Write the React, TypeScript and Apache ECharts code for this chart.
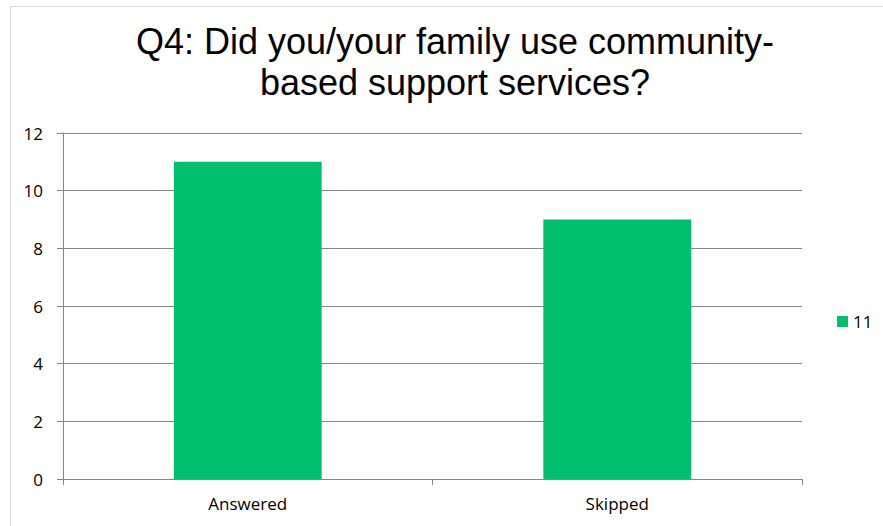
import React, { useEffect, useRef } from "react";
import * as echarts from "echarts";

const categories = ["Answered", "Skipped"];
const seriesName = "11";
const values = [11, 9];
const titleLines = ["Q4: Did you/your family use community-", "based support services?"];

export default function App() {
  const ref = useRef<HTMLDivElement>(null);
  useEffect(() => {
    if (!ref.current) return;
    const chart = echarts.init(ref.current, null, { renderer: "svg" });
    const labelFont = "'Open Sans', sans-serif";
    chart.setOption({
      animation: false,
      backgroundColor: "#ffffff",
      graphic: [
        {
          type: "rect",
          shape: { x: 10.5, y: 6.5, width: 900, height: 600 },
          style: { fill: "none", stroke: "#d9d9d9", lineWidth: 1 },
          silent: true,
        },
        {
          type: "text",
          x: 455,
          y: 21,
          style: {
            text: titleLines.join("\n"),
            textAlign: "center",
            textVerticalAlign: "top",
            fontFamily: "'Liberation Sans', Arial, sans-serif",
            fontSize: 36,
            lineHeight: 41,
            fill: "#000000",
          },
        },
      ],
      legend: {
        data: [seriesName],
        left: 837,
        top: 313,
        padding: 0,
        itemWidth: 11,
        itemHeight: 11,
        icon: "rect",
        textStyle: { fontFamily: labelFont, fontSize: 17, color: "#000" },
      },
      grid: { left: 63, right: 81, top: 133, bottom: 47, containLabel: false },
      xAxis: {
        type: "category",
        data: categories,
        axisLine: { show: true, lineStyle: { color: "#868686", width: 1 } },
        axisTick: { show: true, length: 6, lineStyle: { color: "#868686" } },
        axisLabel: { margin: 16, fontFamily: labelFont, fontSize: 17, color: "#000" },
      },
      yAxis: {
        type: "value",
        min: 0,
        max: 12,
        interval: 2,
        axisLine: { show: true, lineStyle: { color: "#868686", width: 1 } },
        axisTick: { show: true, length: 6, lineStyle: { color: "#868686" } },
        splitLine: { show: true, lineStyle: { color: "#868686", width: 1 } },
        axisLabel: { margin: 20, fontFamily: labelFont, fontSize: 17, color: "#000" },
      },
      series: [
        {
          name: seriesName,
          type: "bar",
          data: values,
          barWidth: "40%",
          itemStyle: { color: "#00bf6f" },
        },
      ],
    });
    return () => chart.dispose();
  }, []);
  return (
    <div
      ref={ref}
      style={{ position: "fixed", left: 0, top: 0, width: 883, height: 526 }}
    />
  );
}
